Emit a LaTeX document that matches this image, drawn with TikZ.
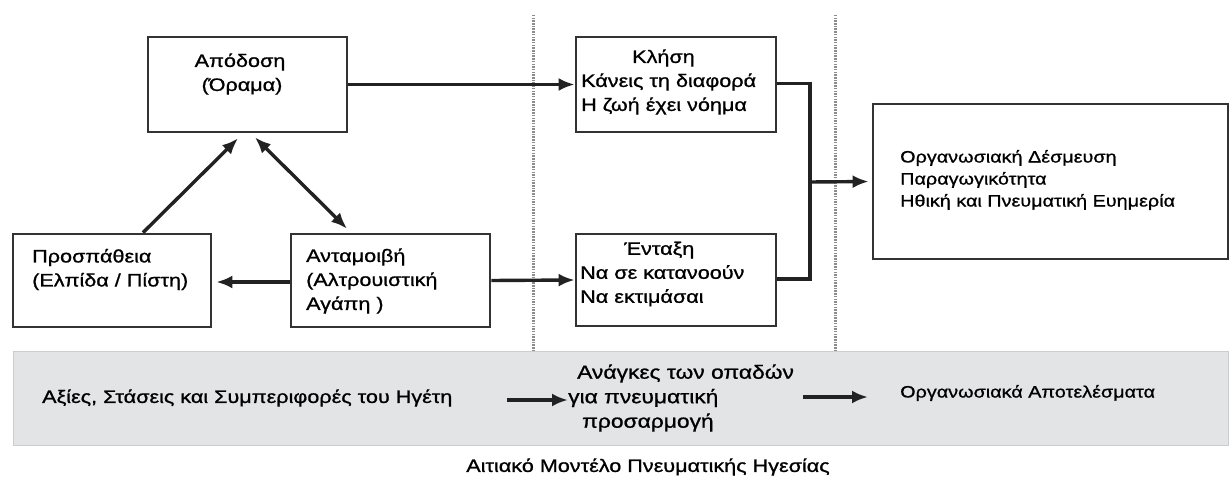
\documentclass[tikz,border=0pt]{standalone}
\usepackage{fontspec}
\setmainfont[FakeStretch=1.2,FakeBold=1]{Liberation Sans}
\usetikzlibrary{arrows.meta}
\definecolor{boxc}{HTML}{333333}
\definecolor{linec}{HTML}{222222}
\definecolor{bandc}{HTML}{E3E4E6}
\definecolor{dotc}{HTML}{8C8C8C}
\begin{document}
\begin{tikzpicture}[x=1pt,y=-1pt,
  box/.style={draw=boxc, line width=2.8pt, rectangle, inner sep=0pt},
  txt/.style={inner sep=0pt, font=\fontsize{18}{24}\selectfont, align=left, text=black},
  smalltxt/.style={inner sep=0pt, font=\fontsize{16.5}{22}\selectfont, align=left, text=black},
  conn/.style={draw=linec, line width=3.4pt},
  arr/.style={conn, -{Latex[length=16pt,width=13pt]}},
  darr/.style={conn, {Latex[length=16pt,width=13pt]}-{Latex[length=16pt,width=13pt]}},
  sep/.style={draw=dotc, line width=3pt, dash pattern=on 1.5pt off 1.2pt}]
\useasboundingbox (0,0) rectangle (1231,481);
\fill[white] (0,0) rectangle (1231,481);
% separators
\coordinate (s1t) at (533,15); \coordinate (s1b) at (533,351);
\coordinate (s2t) at (835,15); \coordinate (s2b) at (835,351);
\draw[sep] (s1t) -- (s1b);
\draw[sep] (s2t) -- (s2b);
% band
\node[fill=bandc, draw=bandc!90!black, line width=0.6pt, minimum width=1215pt, minimum height=94pt, inner sep=0pt] (band) at (620.5,398) {};
% boxes
\node[box, minimum width=199pt, minimum height=95pt] (apo) at (247.5,84.5) {};
\node[box, minimum width=200pt, minimum height=95pt] (klisi) at (676,84.5) {};
\node[box, minimum width=198pt, minimum height=93pt] (prosp) at (112,280.5) {};
\node[box, minimum width=199pt, minimum height=93pt] (antam) at (390.5,280.5) {};
\node[box, minimum width=200pt, minimum height=92pt] (entaxi) at (676,280) {};
\node[box, minimum width=355pt, minimum height=155pt] (outc) at (1050.5,181.5) {};
% texts
\node[txt, align=center] (tapo) at (240,74) {Απόδοση\\\hspace{4pt}(Όραμα)};
\node[txt, anchor=west] (tklisi) at (581,82) {\hspace{51pt}Κλήση\\Κάνεις τη διαφορά\\Η ζωή έχει νόημα};
\node[txt, anchor=west] (tprosp) at (32,269.5) {Προσπάθεια\\(Ελπίδα / Πίστη)};
\node[txt, anchor=west] (tantam) at (306,281) {Ανταμοιβή\\(Αλτρουιστική\\Αγάπη )};
\node[txt, anchor=west] (tentaxi) at (580,274) {\hspace{44pt}Ένταξη\\Να σε κατανοούν\\Να εκτιμάσαι};
\node[smalltxt, anchor=west] (toutc) at (900,180) {Οργανωσιακή Δέσμευση\\Παραγωγικότητα\\Ηθική και Πνευματική Ευημερία};
\node[txt, anchor=west] (lead) at (42,398) {Αξίες, Στάσεις και Συμπεριφορές του Ηγέτη};
\node[txt, anchor=west, font=\fontsize{19}{24.5}\selectfont] (needs) at (568,398) {\hspace{9pt}Ανάγκες των οπαδών\\για πνευματική\\\hspace{14pt}προσαρμογή};
\node[smalltxt, anchor=west] (org) at (900,393) {Οργανωσιακά Αποτελέσματα};
\node[txt] (cap) at (648,467) {Αιτιακό Μοντέλο Πνευματικής Ηγεσίας};
% connectors
\draw[arr] (apo.east) -- (klisi.west);
\draw[arr] ([xshift=31pt]prosp.north) -- ([xshift=-9.5pt,yshift=-5pt]apo.south);
\draw[darr] ([xshift=7.5pt,yshift=-4pt]apo.south) -- ([xshift=-43.5pt,yshift=4pt]antam.north);
\draw[arr, shorten >=4pt] ([yshift=-1.5pt]antam.west) -- ([yshift=-1.5pt]prosp.east);
\draw[arr] (antam.east) -- (entaxi.west);
\coordinate (j) at (810,182);
\draw[conn] ([yshift=1pt]klisi.east) -| (j) |- ([yshift=1pt]entaxi.east);
\draw[arr, shorten >=3pt] (j) -- (outc.west);
\draw[arr] ([xshift=-61pt,yshift=-2pt]needs.west) -- ([yshift=-2pt]needs.west);
\draw[arr] ([xshift=-97pt,yshift=-4pt]org.west) -- ([xshift=-32pt,yshift=-4pt]org.west);
\end{tikzpicture}
\end{document}
